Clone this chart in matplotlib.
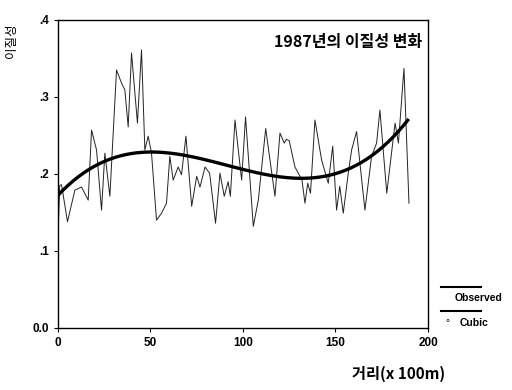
import numpy as np
import matplotlib
matplotlib.use("Agg")
import matplotlib.pyplot as plt
from matplotlib.lines import Line2D

plt.rcParams['font.family'] = ['Liberation Sans', 'Noto Sans CJK KR', 'DejaVu Sans']

# observed heterogeneity (distance in 100 m units)
dist = [0, 1, 2, 5.2, 9.2, 12.8, 16.4, 18.2, 20.9, 23.6, 25.4, 28.1, 31.7, 34.4, 36.2,
        38, 39.8, 43, 45.2, 47, 48.8, 50.6, 53.3, 56, 58.7, 60.5, 62.3, 65, 66.8,
        69.2, 72.3, 75, 76.8, 79.5, 82, 85.2, 87.6, 89.9, 92, 93.2, 95.7, 99.3,
        101.4, 105.6, 108.3, 112.3, 113.7, 117.3, 120, 122.3, 123.5, 125, 128.1,
        131.9, 133.5, 135, 136.5, 138.9, 142.5, 146.1, 148.5, 150.6, 152.3, 154.2,
        156.9, 158.7, 161.4, 165.9, 169.5, 172.2, 174, 177.7, 182.2, 184, 187, 189.7]
observed = [0.115, 0.185, 0.186, 0.138, 0.179, 0.183, 0.166, 0.257, 0.231, 0.153, 0.227,
            0.171, 0.335, 0.318, 0.309, 0.261, 0.357, 0.266, 0.361, 0.231, 0.249, 0.227,
            0.140, 0.149, 0.162, 0.223, 0.192, 0.209, 0.199, 0.249, 0.158, 0.197, 0.183,
            0.209, 0.201, 0.136, 0.201, 0.171, 0.190, 0.171, 0.270, 0.192, 0.274, 0.132,
            0.166, 0.259, 0.234, 0.171, 0.253, 0.240, 0.245, 0.243, 0.209, 0.192, 0.162,
            0.188, 0.175, 0.270, 0.218, 0.188, 0.236, 0.153, 0.184, 0.149, 0.201, 0.231,
            0.255, 0.153, 0.223, 0.240, 0.283, 0.175, 0.266, 0.240, 0.337, 0.162]

# cubic trend fitted on the series resampled at 1-unit steps
grid = np.arange(0, 190)
coef = np.polyfit(grid, np.interp(grid, dist, observed), 3)
xs = np.linspace(0, 189, 200)
cubic = np.polyval(coef, xs)

KR = ["Noto Sans CJK KR", "DejaVu Sans"]

fig = plt.figure(figsize=(5.12, 3.9), dpi=100)
ax = fig.add_axes([0.113, 0.159, 0.723, 0.79])
ax.plot(dist, observed, color="#222222", lw=0.7)
ax.plot(xs, cubic, color="black", lw=2.4)
ax.set_xlim(0, 200)
ax.set_ylim(0, 0.4)
ax.set_xticks([0, 50, 100, 150, 200])
ax.set_yticks([0, 0.1, 0.2, 0.3, 0.4])
ax.set_yticklabels(["0.0", ".1", ".2", ".3", ".4"])
ax.tick_params(labelsize=8.5, length=3, width=0.8, direction="out")
for lab in ax.get_xticklabels() + ax.get_yticklabels():
    lab.set_fontweight("bold")
for s in ax.spines.values():
    s.set_linewidth(1.0)

ax.text(0.985, 0.955, "1987년의 이질성 변화", transform=ax.transAxes, ha="right", va="top",
        fontsize=11.5, fontweight="bold", family=KR)
fig.text(0.022, 0.94, "이질성", rotation=90, ha="center", va="top", fontsize=9, family=KR)
fig.text(0.87, 0.02, "거리(x 100m)", ha="right", va="bottom", fontsize=11,
         fontweight="bold", family=KR)

# legend outside the axes, bottom right
fig.add_artist(Line2D([0.862, 0.94], [0.265, 0.265], color="black", lw=1.5))
fig.text(0.888, 0.237, "Observed", fontsize=7.5, va="center", fontweight="bold")
fig.add_artist(Line2D([0.862, 0.94], [0.203, 0.203], color="black", lw=1.5))
fig.text(0.87, 0.172, "°", fontsize=7, va="center")
fig.text(0.898, 0.172, "Cubic", fontsize=7.5, va="center", fontweight="bold")

fig.savefig("out.png", dpi=100)
